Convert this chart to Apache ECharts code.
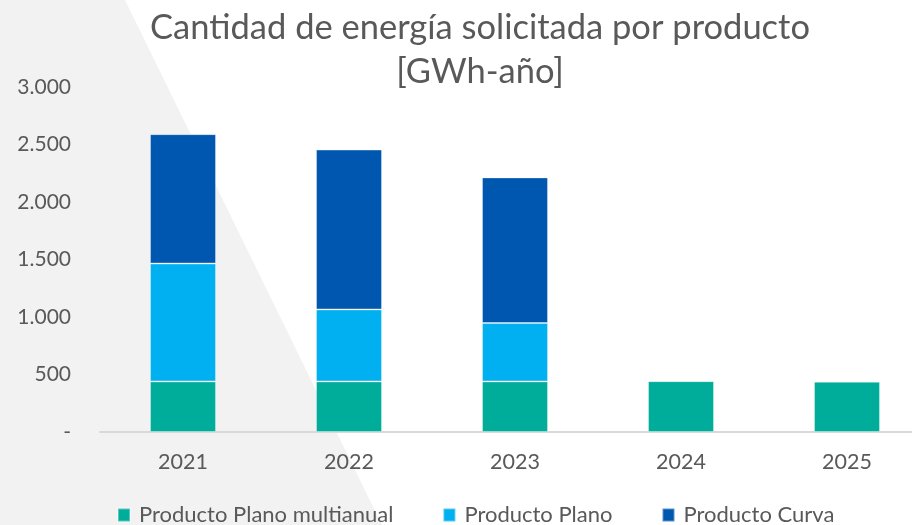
<!DOCTYPE html>
<html>
<head>
<meta charset="utf-8">
<script src="https://cdn.jsdelivr.net/npm/echarts@6/dist/echarts.min.js"></script>
<style>
html, body { margin: 0; padding: 0; background: #fff; }
#chart { width: 912px; height: 525px; }
</style>
</head>
<body>
<div id="chart"></div>
<script>
// datos (GWh-año)
var years = ['2021', '2022', '2023', '2024', '2025'];
var planoMultianual = [440, 440, 440, 442, 437];
var productoPlano = [1025, 626, 508, null, null];
var productoCurva = [1125, 1390, 1266, null, null];

var colors = ['#00ad9a', '#00b0f0', '#0057b0'];
var txt = '#595959';
var fuente = 'Lato';

var chart = echarts.init(document.getElementById('chart'));

function etiquetaMiles(v) {
    if (v === 0) return '-';
    return String(v).replace(/\B(?=(\d{3})+(?!\d))/g, '.');
}

function serie(nombre, datos, color) {
    return {
        name: nombre,
        type: 'bar',
        stack: 'total',
        data: datos,
        barWidth: 66,
        itemStyle: { color: color, borderColor: 'rgba(255,255,255,0.35)', borderWidth: 1 }
    };
}

var option = {
    color: colors,
    animation: false,
    textStyle: { fontFamily: fuente },
    graphic: [{
        type: 'polygon',
        silent: true,
        z: -10,
        shape: { points: [[0, 0], [125, 0], [382, 525], [0, 525]] },
        style: { fill: '#f2f2f2' }
    }],
    title: {
        text: 'Cantidad de energía solicitada por producto\n[GWh-año]',
        left: 475,
        textAlign: 'center',
        top: 1,
        textStyle: { color: txt, fontSize: 34.5, fontWeight: 'normal', lineHeight: 44, fontFamily: fuente }
    },
    legend: {
        bottom: -6,
        left: 112,
        itemWidth: 12,
        itemHeight: 13,
        itemGap: 49,
        icon: 'rect',
        textStyle: { color: txt, fontSize: 22, fontFamily: fuente, padding: [0, 0, 0, 4] },
        data: ['Producto Plano multianual', 'Producto Plano', 'Producto Curva']
    },
    grid: { left: 100, top: 87, width: 830, height: 345, outerBoundsMode: 'none' },
    xAxis: {
        type: 'category',
        data: years,
        axisLine: { lineStyle: { color: '#d9d9d9', width: 2 } },
        axisTick: { show: false },
        axisLabel: { color: txt, fontSize: 21.5, margin: 19, fontFamily: fuente }
    },
    yAxis: {
        type: 'value',
        min: 0,
        max: 3000,
        interval: 500,
        splitLine: { show: false },
        axisLine: { show: false },
        axisTick: { show: false },
        axisLabel: { color: txt, fontSize: 21, margin: 29, fontFamily: fuente, formatter: etiquetaMiles }
    },
    series: [
        serie('Producto Plano multianual', planoMultianual, colors[0]),
        serie('Producto Plano', productoPlano, colors[1]),
        serie('Producto Curva', productoCurva, colors[2])
    ]
};

chart.setOption(option);
</script>
</body>
</html>
